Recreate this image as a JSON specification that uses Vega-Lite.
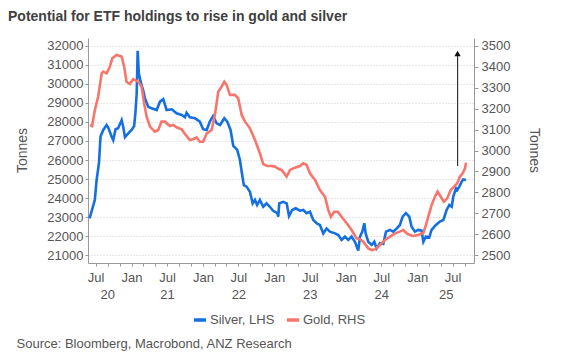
{
  "$schema": "https://vega.github.io/schema/vega-lite/v6.json",
  "width": 386,
  "height": 225,
  "autosize": {"type": "none"},
  "padding": {"left": 88, "top": 38, "right": 111, "bottom": 100},
  "background": "white",
  "title": {"text": "Potential for ETF holdings to rise in gold and silver", "anchor": "start", "frame": "group", "dx": -80, "offset": 14, "fontSize": 14, "font": "Liberation Sans", "fontWeight": "bold", "color": "#404040"},
  "config": {"view": {"stroke": null}, "font": "Liberation Sans"},
  "datasets": {
    "silver": [
      {"d":"2020-05-31","v":22930},{"d":"2020-06-10","v":23280},{"d":"2020-06-27","v":23900},{"d":"2020-07-06","v":24950},{"d":"2020-07-18","v":25830},{"d":"2020-07-26","v":27230},{"d":"2020-08-09","v":27580},{"d":"2020-08-26","v":27840},{"d":"2020-09-03","v":27720},{"d":"2020-09-21","v":27230},{"d":"2020-09-29","v":27050},{"d":"2020-10-11","v":27620},{"d":"2020-10-24","v":27670},{"d":"2020-11-11","v":28100},{"d":"2020-11-19","v":27750},{"d":"2020-11-28","v":27200},{"d":"2020-12-15","v":27400},
      {"d":"2021-01-01","v":27580},{"d":"2021-01-14","v":27790},{"d":"2021-01-21","v":28540},{"d":"2021-01-27","v":29510},{"d":"2021-02-01","v":31750},{"d":"2021-02-07","v":30560},{"d":"2021-02-18","v":30040},{"d":"2021-03-01","v":29680},{"d":"2021-03-10","v":29250},{"d":"2021-03-27","v":28800},{"d":"2021-04-13","v":28720},{"d":"2021-05-09","v":28630},{"d":"2021-05-26","v":29070},{"d":"2021-06-12","v":29200},{"d":"2021-06-29","v":28630},{"d":"2021-07-25","v":28670},{"d":"2021-08-19","v":28460},{"d":"2021-09-14","v":28370},{"d":"2021-10-01","v":28250},{"d":"2021-10-09","v":28490},{"d":"2021-10-26","v":28250},{"d":"2021-11-21","v":28200},{"d":"2021-12-16","v":28020},
      {"d":"2022-01-02","v":27620},{"d":"2022-01-20","v":27580},{"d":"2022-02-05","v":28020},{"d":"2022-02-22","v":28320},{"d":"2022-03-12","v":27930},{"d":"2022-03-29","v":27840},{"d":"2022-04-20","v":28200},{"d":"2022-05-05","v":28020},{"d":"2022-05-22","v":27580},{"d":"2022-06-05","v":26740},{"d":"2022-06-25","v":26530},{"d":"2022-07-09","v":26000},{"d":"2022-07-18","v":25380},{"d":"2022-07-29","v":24680},{"d":"2022-08-12","v":24600},{"d":"2022-08-29","v":24330},{"d":"2022-09-12","v":23720},{"d":"2022-09-24","v":23900},{"d":"2022-10-05","v":23630},{"d":"2022-10-19","v":23900},{"d":"2022-11-05","v":23540},{"d":"2022-11-22","v":23720},{"d":"2022-12-09","v":23540},{"d":"2022-12-26","v":23330},
      {"d":"2023-01-16","v":23200},{"d":"2023-01-21","v":23020},{"d":"2023-01-26","v":23720},{"d":"2023-02-15","v":23800},{"d":"2023-03-05","v":23720},{"d":"2023-03-17","v":23050},{"d":"2023-04-02","v":23370},{"d":"2023-04-20","v":23460},{"d":"2023-05-12","v":23330},{"d":"2023-05-29","v":23370},{"d":"2023-06-15","v":23200},{"d":"2023-07-02","v":23280},{"d":"2023-07-19","v":22840},{"d":"2023-08-05","v":22670},{"d":"2023-08-22","v":22580},{"d":"2023-09-08","v":22140},{"d":"2023-09-25","v":22400},{"d":"2023-10-12","v":22230},{"d":"2023-11-07","v":22140},{"d":"2023-11-24","v":22050},{"d":"2023-12-11","v":21790},{"d":"2023-12-28","v":21970},
      {"d":"2024-01-14","v":21790},{"d":"2024-01-31","v":21970},{"d":"2024-02-17","v":21700},{"d":"2024-03-05","v":21230},{"d":"2024-03-14","v":21970},{"d":"2024-03-26","v":22230},{"d":"2024-04-05","v":22670},{"d":"2024-04-12","v":22140},{"d":"2024-04-25","v":21700},{"d":"2024-05-13","v":21530},{"d":"2024-05-26","v":21700},{"d":"2024-06-07","v":21350},{"d":"2024-06-24","v":21620},{"d":"2024-07-11","v":21580},{"d":"2024-07-25","v":22230},{"d":"2024-08-14","v":22320},{"d":"2024-08-31","v":22230},{"d":"2024-09-18","v":22400},{"d":"2024-10-04","v":22580},{"d":"2024-10-18","v":23020},{"d":"2024-11-04","v":23200},{"d":"2024-11-21","v":23020},{"d":"2024-12-03","v":22490},{"d":"2024-12-20","v":22230},
      {"d":"2025-01-06","v":22320},{"d":"2025-01-23","v":22280},{"d":"2025-02-01","v":21700},{"d":"2025-02-14","v":21970},{"d":"2025-03-03","v":21930},{"d":"2025-03-15","v":22320},{"d":"2025-04-06","v":22580},{"d":"2025-04-27","v":22760},{"d":"2025-05-14","v":22840},{"d":"2025-05-31","v":23370},{"d":"2025-06-14","v":23630},{"d":"2025-06-26","v":23540},{"d":"2025-07-04","v":24070},{"d":"2025-07-18","v":24510},{"d":"2025-07-24","v":24420},{"d":"2025-08-04","v":24600},{"d":"2025-08-16","v":24860},{"d":"2025-08-24","v":24980},{"d":"2025-09-07","v":24950}
    ],
    "gold": [
      {"d":"2020-06-02","v":3122},{"d":"2020-06-13","v":3117},{"d":"2020-06-27","v":3194},{"d":"2020-07-14","v":3257},{"d":"2020-08-01","v":3369},{"d":"2020-08-09","v":3377},{"d":"2020-08-26","v":3369},{"d":"2020-09-12","v":3401},{"d":"2020-09-24","v":3441},{"d":"2020-10-16","v":3457},{"d":"2020-11-11","v":3449},{"d":"2020-11-24","v":3401},{"d":"2020-12-06","v":3329},{"d":"2020-12-23","v":3318},
      {"d":"2021-01-09","v":3341},{"d":"2021-02-04","v":3329},{"d":"2021-02-21","v":3305},{"d":"2021-03-06","v":3226},{"d":"2021-03-19","v":3162},{"d":"2021-04-05","v":3114},{"d":"2021-04-30","v":3090},{"d":"2021-05-17","v":3098},{"d":"2021-06-03","v":3138},{"d":"2021-06-20","v":3138},{"d":"2021-07-16","v":3117},{"d":"2021-08-02","v":3122},{"d":"2021-08-19","v":3111},{"d":"2021-09-14","v":3101},{"d":"2021-10-01","v":3079},{"d":"2021-10-26","v":3050},{"d":"2021-11-12","v":3054},{"d":"2021-11-29","v":3063},{"d":"2021-12-16","v":3042},
      {"d":"2022-01-02","v":3042},{"d":"2022-01-20","v":3082},{"d":"2022-02-14","v":3098},{"d":"2022-03-03","v":3170},{"d":"2022-03-20","v":3281},{"d":"2022-04-06","v":3305},{"d":"2022-04-20","v":3329},{"d":"2022-05-02","v":3313},{"d":"2022-05-19","v":3266},{"d":"2022-06-13","v":3266},{"d":"2022-06-30","v":3250},{"d":"2022-07-18","v":3170},{"d":"2022-08-04","v":3138},{"d":"2022-08-29","v":3106},{"d":"2022-09-24","v":3050},{"d":"2022-10-19","v":2987},{"d":"2022-11-05","v":2935},{"d":"2022-11-26","v":2926},{"d":"2022-12-18","v":2926},
      {"d":"2023-01-04","v":2923},{"d":"2023-01-26","v":2910},{"d":"2023-02-07","v":2907},{"d":"2023-03-05","v":2875},{"d":"2023-03-22","v":2907},{"d":"2023-04-16","v":2918},{"d":"2023-05-12","v":2926},{"d":"2023-05-29","v":2939},{"d":"2023-06-15","v":2931},{"d":"2023-07-02","v":2891},{"d":"2023-07-28","v":2859},{"d":"2023-08-22","v":2811},{"d":"2023-09-17","v":2779},{"d":"2023-10-04","v":2715},{"d":"2023-10-17","v":2683},{"d":"2023-11-03","v":2707},{"d":"2023-11-21","v":2707},{"d":"2023-12-11","v":2683},
      {"d":"2024-01-06","v":2652},{"d":"2024-01-31","v":2620},{"d":"2024-02-26","v":2580},{"d":"2024-03-14","v":2575},{"d":"2024-03-31","v":2564},{"d":"2024-04-25","v":2532},{"d":"2024-05-13","v":2524},{"d":"2024-05-30","v":2527},{"d":"2024-06-24","v":2548},{"d":"2024-07-20","v":2572},{"d":"2024-08-14","v":2588},{"d":"2024-09-09","v":2604},{"d":"2024-10-04","v":2612},{"d":"2024-10-21","v":2620},{"d":"2024-11-08","v":2604},{"d":"2024-11-25","v":2596},{"d":"2024-12-11","v":2591},
      {"d":"2025-01-06","v":2596},{"d":"2025-02-01","v":2607},{"d":"2025-02-14","v":2643},{"d":"2025-02-26","v":2683},{"d":"2025-03-15","v":2739},{"d":"2025-04-01","v":2779},{"d":"2025-04-15","v":2803},{"d":"2025-05-01","v":2779},{"d":"2025-05-17","v":2755},{"d":"2025-06-03","v":2771},{"d":"2025-06-21","v":2811},{"d":"2025-07-08","v":2827},{"d":"2025-07-24","v":2843},{"d":"2025-08-07","v":2875},{"d":"2025-08-21","v":2891},{"d":"2025-09-02","v":2915},{"d":"2025-09-07","v":2942}
    ],
    "arrow": [{"d":"2025-07-26","lo":2926,"hi":3458,"tip":3464}]
  },
  "layer": [
    {
      "data": {"name": "silver"},
      "mark": {"type": "line", "strokeWidth": 2.6, "interpolate": "linear"},
      "encoding": {
        "x": {"field": "d", "type": "temporal",
          "scale": {"type": "utc", "domain": [{"year": 2020, "month": 5, "date": 23, "utc": true}, {"year": 2025, "month": 10, "date": 18, "utc": true}]},
          "axis": {"orient": "bottom", "title": null, "grid": false, "tickCount": {"interval": "month", "step": 2},
            "labelExpr": "utcmonth(datum.value)==0 ? 'Jan' : (utcmonth(datum.value)==6 ? 'Jul' : '')",
            "labelOverlap": false, "labelFlush": false, "tickSize": 3, "tickColor": "#999999", "domainColor": "#999999",
            "labelPadding": 5, "labelFontSize": 13, "labelColor": "#555555", "labelFont": "Liberation Sans"}},
        "y": {"field": "v", "type": "quantitative",
          "scale": {"domain": [20580, 32420], "nice": false, "zero": false},
          "axis": {"orient": "left", "values": [21000,22000,23000,24000,25000,26000,27000,28000,29000,30000,31000,32000],
            "format": "d", "grid": true, "gridColor": "#cfcfcf", "gridDash": [1, 2], "gridWidth": 1,
            "tickSize": 3, "tickColor": "#999999", "domainColor": "#999999", "labelPadding": 2,
            "labelFontSize": 13, "labelColor": "#555555", "labelFont": "Liberation Sans",
            "title": "Tonnes", "titleFontSize": 14, "titleFontWeight": "normal", "titleColor": "#555555",
            "titleX": -66, "titleY": 112, "titleAngle": -90, "titleAlign": "center", "titleBaseline": "middle"}},
        "color": {"datum": "Silver, LHS", "type": "nominal",
          "scale": {"domain": ["Silver, LHS", "Gold, RHS"], "range": ["#1470E0", "#F8756C"]},
          "legend": {"title": null, "orient": "none", "legendX": 104, "legendY": 274, "direction": "horizontal",
            "symbolType": "stroke", "symbolStrokeWidth": 3.5, "symbolSize": 150, "labelFontSize": 13,
            "labelColor": "#555555", "labelFont": "Liberation Sans", "columnPadding": 4, "labelOffset": 2}}
      }
    },
    {
      "data": {"name": "gold"},
      "mark": {"type": "line", "strokeWidth": 2.6, "interpolate": "linear"},
      "encoding": {
        "x": {"field": "d", "type": "temporal",
          "axis": {"orient": "bottom", "grid": false, "ticks": false, "domain": false,
            "values": [{"year": 2020, "month": 8, "date": 30, "utc": true}, {"year": 2021, "month": 7, "date": 1, "utc": true}, {"year": 2022, "month": 7, "date": 1, "utc": true}, {"year": 2023, "month": 7, "date": 1, "utc": true}, {"year": 2024, "month": 7, "date": 1, "utc": true}, {"year": 2025, "month": 5, "date": 26, "utc": true}],
            "labelExpr": "utcFormat(datum.value, '%y')", "labelOverlap": false, "labelFlush": false,
            "labelPadding": 25, "labelFontSize": 13, "labelColor": "#555555", "labelFont": "Liberation Sans",
            "title": "Source: Bloomberg, Macrobond, ANZ Research", "titleX": -72, "titleY": 80, "titleAlign": "left",
            "titleBaseline": "middle", "titleAnchor": null, "titleFontSize": 13, "titleFontWeight": "normal", "titleColor": "#555555", "titleFont": "Liberation Sans"}},
        "y": {"field": "v", "type": "quantitative",
          "scale": {"domain": [2462, 3538], "nice": false, "zero": false},
          "axis": {"orient": "right", "values": [2500,2600,2700,2800,2900,3000,3100,3200,3300,3400,3500],
            "format": "d", "grid": false, "tickSize": 4, "tickColor": "#999999", "domainColor": "#999999", "labelPadding": 3,
            "labelFontSize": 13, "labelColor": "#555555", "labelFont": "Liberation Sans",
            "title": "Tonnes", "titleFontSize": 14, "titleFontWeight": "normal", "titleColor": "#555555",
            "titleX": 59, "titleY": 112, "titleAngle": 90, "titleAlign": "center", "titleBaseline": "middle"}},
        "color": {"datum": "Gold, RHS", "type": "nominal"}
      }
    },
    {
      "data": {"name": "arrow"},
      "layer": [
        {
          "mark": {"type": "rule", "color": "#333333", "strokeWidth": 1.2},
          "encoding": {
            "x": {"field": "d", "type": "temporal", "axis": null},
            "y": {"field": "lo", "type": "quantitative", "scale": {"domain": [2462, 3538], "nice": false, "zero": false}, "axis": null},
            "y2": {"field": "hi"}
          }
        },
        {
          "mark": {"type": "point", "shape": "triangle-up", "filled": true, "color": "#111111", "size": 40, "opacity": 1},
          "encoding": {
            "x": {"field": "d", "type": "temporal", "axis": null},
            "y": {"field": "tip", "type": "quantitative", "scale": {"domain": [2462, 3538], "nice": false, "zero": false}, "axis": null}
          }
        }
      ]
    }
  ],
  "resolve": {"scale": {"y": "independent"}, "axis": {"x": "independent", "y": "independent"}}
}
